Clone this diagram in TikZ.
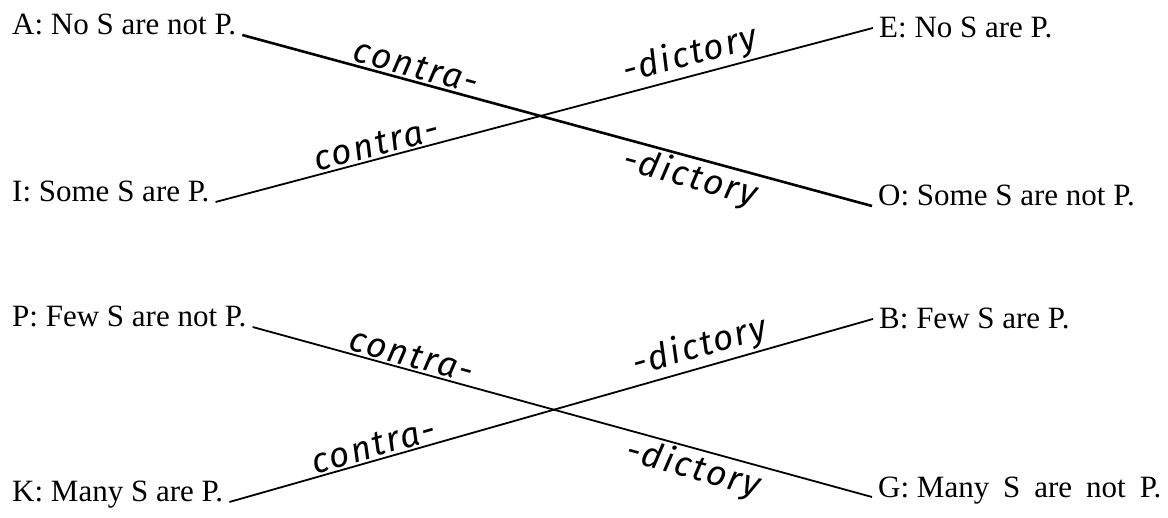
\documentclass[tikz,border=0pt]{standalone}
\usepackage{fontspec}
\setmainfont{Liberation Serif}
\newfontfamily\handfont{Fira Sans}[LetterSpace=6]
\usetikzlibrary{positioning}

\tikzset{
  stmt/.style={anchor=base west, inner xsep=6pt, inner ysep=3pt, font=\fontsize{31}{35}\selectfont},
  hand/.style={sloped, inner sep=2pt, font=\handfont\itshape\fontsize{35}{37}\selectfont},
  link/.style={line width=1.8pt},
  boldlink/.style={line width=2.6pt}
}
\newcommand{\wsp}{\hspace{0.2em} }

\begin{document}
\begin{tikzpicture}[x=1pt, y=-1pt]
    \useasboundingbox (0,0) rectangle (1168,518);

    % upper square
    \node[stmt] (A) at (6,35) {A: No S are not P.};
    \node[stmt] (I) at (6,202) {I: Some S are P.};
    \node[stmt] (E) at (873,38) {E: No S are P.};
    \node[stmt] (O) at (872,206) {O: Some S are not P.};

    \draw[boldlink] (A.base east) -- node[hand, above, pos=0.27] {contra-}
        node[hand, below, pos=0.72] {-dictory} (O.base west);
    \draw[link] (I.base east) -- node[hand, above, pos=0.25] {contra-}
        node[hand, above, pos=0.73] {-dictory} (E.west);

    % lower square
    \node[stmt] (P) at (6,327) {P: Few S are not P.};
    \node[stmt] (K) at (6,502) {K: Many S are P.};
    \node[stmt] (B) at (873,329) {B: Few S are P.};
    \node[stmt] (G) at (872,497) {G: Many\wsp S\wsp are\wsp not\wsp P.};

    \draw[link] (P.base east) -- node[hand, above, pos=0.25] {contra-}
        node[hand, below, pos=0.72] {-dictory} (G.base west);
    \draw[link] (K.base east) -- node[hand, above, pos=0.23] {contra-}
        node[hand, above, pos=0.74] {-dictory} (B.west);
\end{tikzpicture}
\end{document}
